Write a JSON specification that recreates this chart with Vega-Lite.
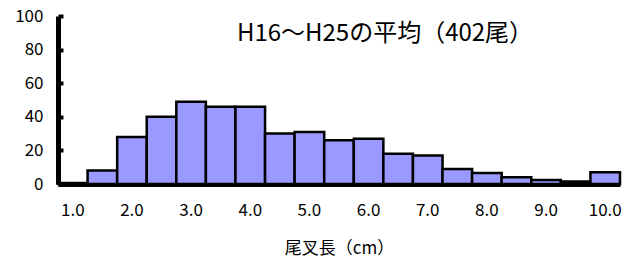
{
  "$schema": "https://vega.github.io/schema/vega-lite/v6.json",
  "width": 562,
  "height": 168,
  "autosize": {"type": "none"},
  "padding": {"left": 58, "top": 16, "right": 8, "bottom": 79},
  "background": "white",
  "title": {
    "text": "H16～H25の平均（402尾）",
    "font": "Noto Sans CJK JP",
    "fontSize": 24,
    "fontWeight": "normal",
    "color": "black",
    "anchor": "middle",
    "frame": "group",
    "offset": 0,
    "dx": 46,
    "dy": 39
  },
  "config": {
    "view": {"stroke": null},
    "font": "Noto Sans CJK JP"
  },
  "data": {
    "values": [
      {"len": "1.0", "n": 0.6},
      {"len": "1.5", "n": 8},
      {"len": "2.0", "n": 28},
      {"len": "2.5", "n": 40},
      {"len": "3.0", "n": 49},
      {"len": "3.5", "n": 46},
      {"len": "4.0", "n": 46},
      {"len": "4.5", "n": 30},
      {"len": "5.0", "n": 31},
      {"len": "5.5", "n": 26},
      {"len": "6.0", "n": 27},
      {"len": "6.5", "n": 18},
      {"len": "7.0", "n": 17},
      {"len": "7.5", "n": 9},
      {"len": "8.0", "n": 6.5},
      {"len": "8.5", "n": 4},
      {"len": "9.0", "n": 2.4},
      {"len": "9.5", "n": 1.5},
      {"len": "10.0", "n": 7}
    ]
  },
  "mark": {"type": "bar", "fill": "#9999ff", "stroke": "black", "strokeWidth": 2.5},
  "encoding": {
    "x": {
      "field": "len",
      "type": "ordinal",
      "sort": null,
      "scale": {"paddingInner": 0, "paddingOuter": 0},
      "axis": {
        "title": "尾叉長（cm）",
        "titleFont": "Noto Sans CJK JP",
        "titleFontSize": 17,
        "titleFontWeight": "normal",
        "titleColor": "black",
        "titlePadding": 22,
        "labelAngle": 0,
        "labelFont": "Noto Sans CJK JP",
        "labelFontSize": 17,
        "labelColor": "black",
        "labelPadding": 18,
        "labelOverlap": false,
        "labelExpr": "indexof(datum.value, '.0') >= 0 ? datum.value : ''",
        "domainColor": "black",
        "domainWidth": 5,
        "ticks": false
      }
    },
    "y": {
      "field": "n",
      "type": "quantitative",
      "scale": {"domain": [0, 100], "nice": false},
      "axis": {
        "title": null,
        "values": [0, 20, 40, 60, 80, 100],
        "grid": false,
        "labelFont": "Noto Sans CJK JP",
        "labelFontSize": 17,
        "labelColor": "black",
        "labelPadding": 20,
        "domainColor": "black",
        "domainWidth": 5,
        "tickSize": -5,
        "tickWidth": 4,
        "tickColor": "black"
      }
    }
  }
}
